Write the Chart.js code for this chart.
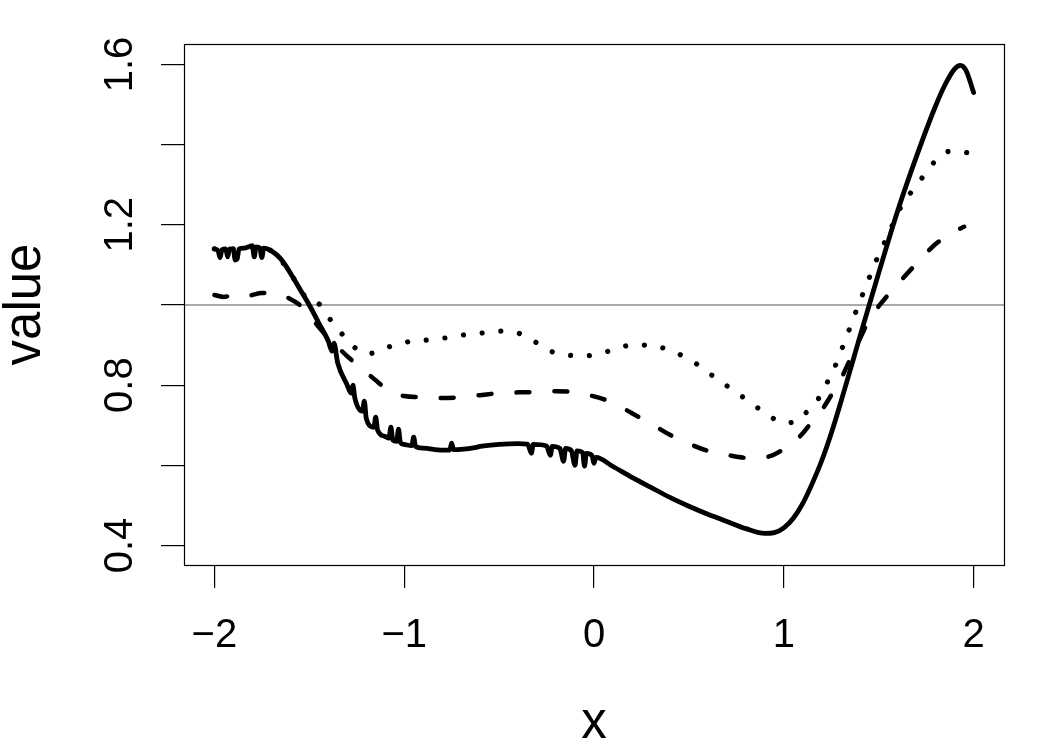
<!DOCTYPE html>
<html>
<head>
<meta charset="utf-8">
<script src="https://cdn.jsdelivr.net/npm/chart.js@4"></script>
<style>
  html, body { margin: 0; padding: 0; background: #fff; }
  #wrap { width: 1050px; height: 750px; }
</style>
</head>
<body>
<div id="wrap"><canvas id="myChart" width="1050" height="750"></canvas></div>
<script>
// solid curve (with the jittery bits)
const xSolid = [-2.00, -1.98, -1.97, -1.96, -1.94, -1.93, -1.92, -1.90, -1.89, -1.88, -1.87, -1.84, -1.82, -1.80,
  -1.79, -1.78, -1.76, -1.75, -1.74, -1.70, -1.65, -1.60, -1.55, -1.50, -1.45, -1.40, -1.38, -1.37, -1.35, -1.30,
  -1.28, -1.27, -1.26, -1.22, -1.21, -1.20, -1.16, -1.15, -1.14, -1.10, -1.08, -1.07, -1.06, -1.04, -1.03, -1.02,
  -1.00, -0.96, -0.95, -0.94, -0.90, -0.80, -0.76, -0.75, -0.74, -0.70, -0.62, -0.60, -0.50, -0.40, -0.35, -0.33,
  -0.32, -0.25, -0.23, -0.22, -0.18, -0.16, -0.15, -0.12, -0.10, -0.09, -0.06, -0.05, -0.04, -0.01, 0.00, 0.01,
  0.10, 0.20, 0.30, 0.40, 0.50, 0.60, 0.70, 0.80, 0.90, 0.95, 1.00, 1.05, 1.10, 1.15, 1.20, 1.25, 1.30, 1.35,
  1.40, 1.45, 1.50, 1.60, 1.70, 1.80, 1.85, 1.90, 1.93, 1.96, 2.00]
const ySolid = [1.140, 1.135, 1.118, 1.138, 1.140, 1.120, 1.140, 1.138, 1.112, 1.115, 1.140, 1.142, 1.145, 1.148,
  1.120, 1.145, 1.142, 1.118, 1.142, 1.135, 1.115, 1.080, 1.040, 1.000, 0.955, 0.910, 0.885, 0.905, 0.855, 0.800,
  0.780, 0.800, 0.768, 0.735, 0.760, 0.718, 0.695, 0.720, 0.688, 0.672, 0.668, 0.695, 0.663, 0.660, 0.690, 0.657,
  0.652, 0.649, 0.670, 0.647, 0.643, 0.638, 0.638, 0.655, 0.639, 0.640, 0.645, 0.647, 0.652, 0.654, 0.653, 0.630,
  0.652, 0.648, 0.625, 0.647, 0.642, 0.610, 0.642, 0.637, 0.600, 0.636, 0.632, 0.598, 0.630, 0.624, 0.605, 0.620,
  0.597, 0.570, 0.545, 0.520, 0.498, 0.478, 0.460, 0.442, 0.430, 0.432, 0.444, 0.468, 0.505, 0.555, 0.612, 0.680,
  0.757, 0.838, 0.920, 1.000, 1.080, 1.235, 1.372, 1.497, 1.550, 1.589, 1.598, 1.585, 1.530]

// dashed curve
const xDashed = [-2.00, -1.95, -1.90, -1.85, -1.80, -1.75, -1.70, -1.65, -1.60, -1.55, -1.50, -1.45, -1.40, -1.35,
  -1.30, -1.25, -1.20, -1.15, -1.10, -1.05, -1.00, -0.90, -0.80, -0.70, -0.60, -0.50, -0.40, -0.30, -0.20, -0.10,
  0.00, 0.05, 0.10, 0.20, 0.30, 0.40, 0.50, 0.60, 0.70, 0.80, 0.90, 1.00, 1.05, 1.10, 1.15, 1.20, 1.25, 1.30,
  1.35, 1.40, 1.45, 1.50, 1.60, 1.70, 1.80, 1.90, 1.95]
const yDashed = [1.025, 1.020, 1.025, 1.020, 1.025, 1.030, 1.030, 1.025, 1.015, 1.000, 0.975, 0.945, 0.918, 0.895,
  0.872, 0.852, 0.832, 0.812, 0.793, 0.780, 0.773, 0.770, 0.768, 0.770, 0.775, 0.780, 0.782, 0.783, 0.785, 0.782,
  0.772, 0.765, 0.756, 0.730, 0.704, 0.676, 0.654, 0.636, 0.626, 0.619, 0.620, 0.640, 0.656, 0.680, 0.710, 0.738,
  0.775, 0.815, 0.865, 0.915, 0.963, 0.997, 1.052, 1.104, 1.152, 1.184, 1.195]

// dotted curve
const xDotted = [-2.00, -1.90, -1.80, -1.70, -1.60, -1.55, -1.50, -1.45, -1.40, -1.34, -1.30, -1.25, -1.20, -1.15,
  -1.10, -1.05, -1.00, -0.95, -0.90, -0.83, -0.75, -0.65, -0.59, -0.50, -0.40, -0.31, -0.23, -0.14, -0.06, 0.00,
  0.10, 0.20, 0.30, 0.39, 0.48, 0.565, 0.64, 0.725, 0.805, 0.885, 0.963, 1.00, 1.06, 1.13, 1.195, 1.237, 1.28,
  1.316, 1.35, 1.385, 1.42, 1.458, 1.495, 1.537, 1.62, 1.68, 1.737, 1.80, 1.88, 1.968, 2.00]
const yDotted = [1.140, 1.140, 1.145, 1.135, 1.080, 1.040, 1.010, 1.003, 0.970, 0.935, 0.912, 0.890, 0.878, 0.882,
  0.892, 0.900, 0.905, 0.912, 0.912, 0.915, 0.920, 0.928, 0.930, 0.935, 0.930, 0.908, 0.885, 0.875, 0.873, 0.875,
  0.888, 0.900, 0.900, 0.888, 0.870, 0.845, 0.818, 0.790, 0.763, 0.736, 0.712, 0.706, 0.708, 0.738, 0.775, 0.815,
  0.858, 0.903, 0.945, 0.990, 1.032, 1.077, 1.120, 1.162, 1.247, 1.287, 1.322, 1.360, 1.384, 1.380, 1.378]

const xTicks = [-2, -1, 0, 1, 2]
const yTicks = [0.4, 0.6, 0.8, 1.0, 1.2, 1.4, 1.6]
const yLabels = [0.4, 0.8, 1.2, 1.6]
const refLine = 1

const FONT = '"Liberation Sans", Arial, Helvetica, sans-serif'

const pts = (xs, ys) => xs.map((x, i) => ({ x: x, y: ys[i] }))

// box, reference line and all the R-style text
const rDecor = {
  id: 'rDecor',
  beforeDatasetsDraw(chart) {
    const { ctx, chartArea: a, scales: { y } } = chart
    const py = y.getPixelForValue(refLine)
    ctx.save()
    ctx.strokeStyle = '#8c8c8c'
    ctx.lineWidth = 1.5
    ctx.beginPath()
    ctx.moveTo(a.left, py)
    ctx.lineTo(a.right, py)
    ctx.stroke()
    ctx.restore()
  },
  afterDraw(chart) {
    const { ctx, chartArea: a, scales: { x, y } } = chart
    ctx.save()
    ctx.strokeStyle = '#000'
    ctx.lineWidth = 1.2
    ctx.strokeRect(a.left + 0.5, a.top + 0.5, a.right - a.left, a.bottom - a.top)

    ctx.fillStyle = '#000'
    ctx.font = '40px ' + FONT
    ctx.textAlign = 'center'
    ctx.textBaseline = 'alphabetic'
    xTicks.forEach(v => {
      const lbl = v < 0 ? '\u2212' + Math.abs(v) : String(v)
      ctx.fillText(lbl, x.getPixelForValue(v), 647)
    })
    yLabels.forEach(v => {
      ctx.save()
      ctx.translate(132, y.getPixelForValue(v))
      ctx.rotate(-Math.PI / 2)
      ctx.fillText(v.toFixed(1), 0, 0)
      ctx.restore()
    })

    ctx.font = '51px ' + FONT
    ctx.fillText('x', (a.left + a.right) / 2, 738)
    ctx.save()
    ctx.translate(40, (a.top + a.bottom) / 2)
    ctx.rotate(-Math.PI / 2)
    ctx.fillText('value', 0, 0)
    ctx.restore()
    ctx.restore()
  }
}

const lineBase = {
  showLine: true,
  pointRadius: 0,
  pointHoverRadius: 0,
  borderColor: '#000',
  backgroundColor: 'transparent',
  borderCapStyle: 'round',
  borderJoinStyle: 'round',
  cubicInterpolationMode: 'monotone',
  fill: false
}

new Chart(document.getElementById('myChart'), {
  type: 'scatter',
  data: {
    datasets: [
      Object.assign({}, lineBase, { label: 'solid', data: pts(xSolid, ySolid), borderWidth: 4.8 }),
      Object.assign({}, lineBase, { label: 'dashed', data: pts(xDashed, yDashed), borderWidth: 4.5, borderDash: [13, 25] }),
      Object.assign({}, lineBase, { label: 'dotted', data: pts(xDotted, yDotted), borderWidth: 5.2, borderDash: [0.001, 18.8] })
    ]
  },
  options: {
    responsive: false,
    animation: false,
    events: [],
    layout: { padding: { top: 44, right: 46, left: 0, bottom: 0 } },
    plugins: {
      legend: { display: false },
      tooltip: { enabled: false }
    },
    scales: {
      x: {
        type: 'linear',
        min: -2.16,
        max: 2.16,
        afterBuildTicks: s => { s.ticks = xTicks.map(v => ({ value: v })) },
        afterFit: s => { s.height = 185 },
        ticks: { display: false },
        border: { display: false },
        grid: { drawOnChartArea: false, drawTicks: true, tickLength: 23, color: '#000', lineWidth: 1.2 }
      },
      y: {
        type: 'linear',
        min: 0.3513,
        max: 1.6511,
        afterBuildTicks: s => { s.ticks = yTicks.map(v => ({ value: v })) },
        afterFit: s => { s.width = 184 },
        ticks: { display: false },
        border: { display: false },
        grid: { drawOnChartArea: false, drawTicks: true, tickLength: 23, color: '#000', lineWidth: 1.2 }
      }
    }
  },
  plugins: [rDecor]
})
</script>
</body>
</html>
